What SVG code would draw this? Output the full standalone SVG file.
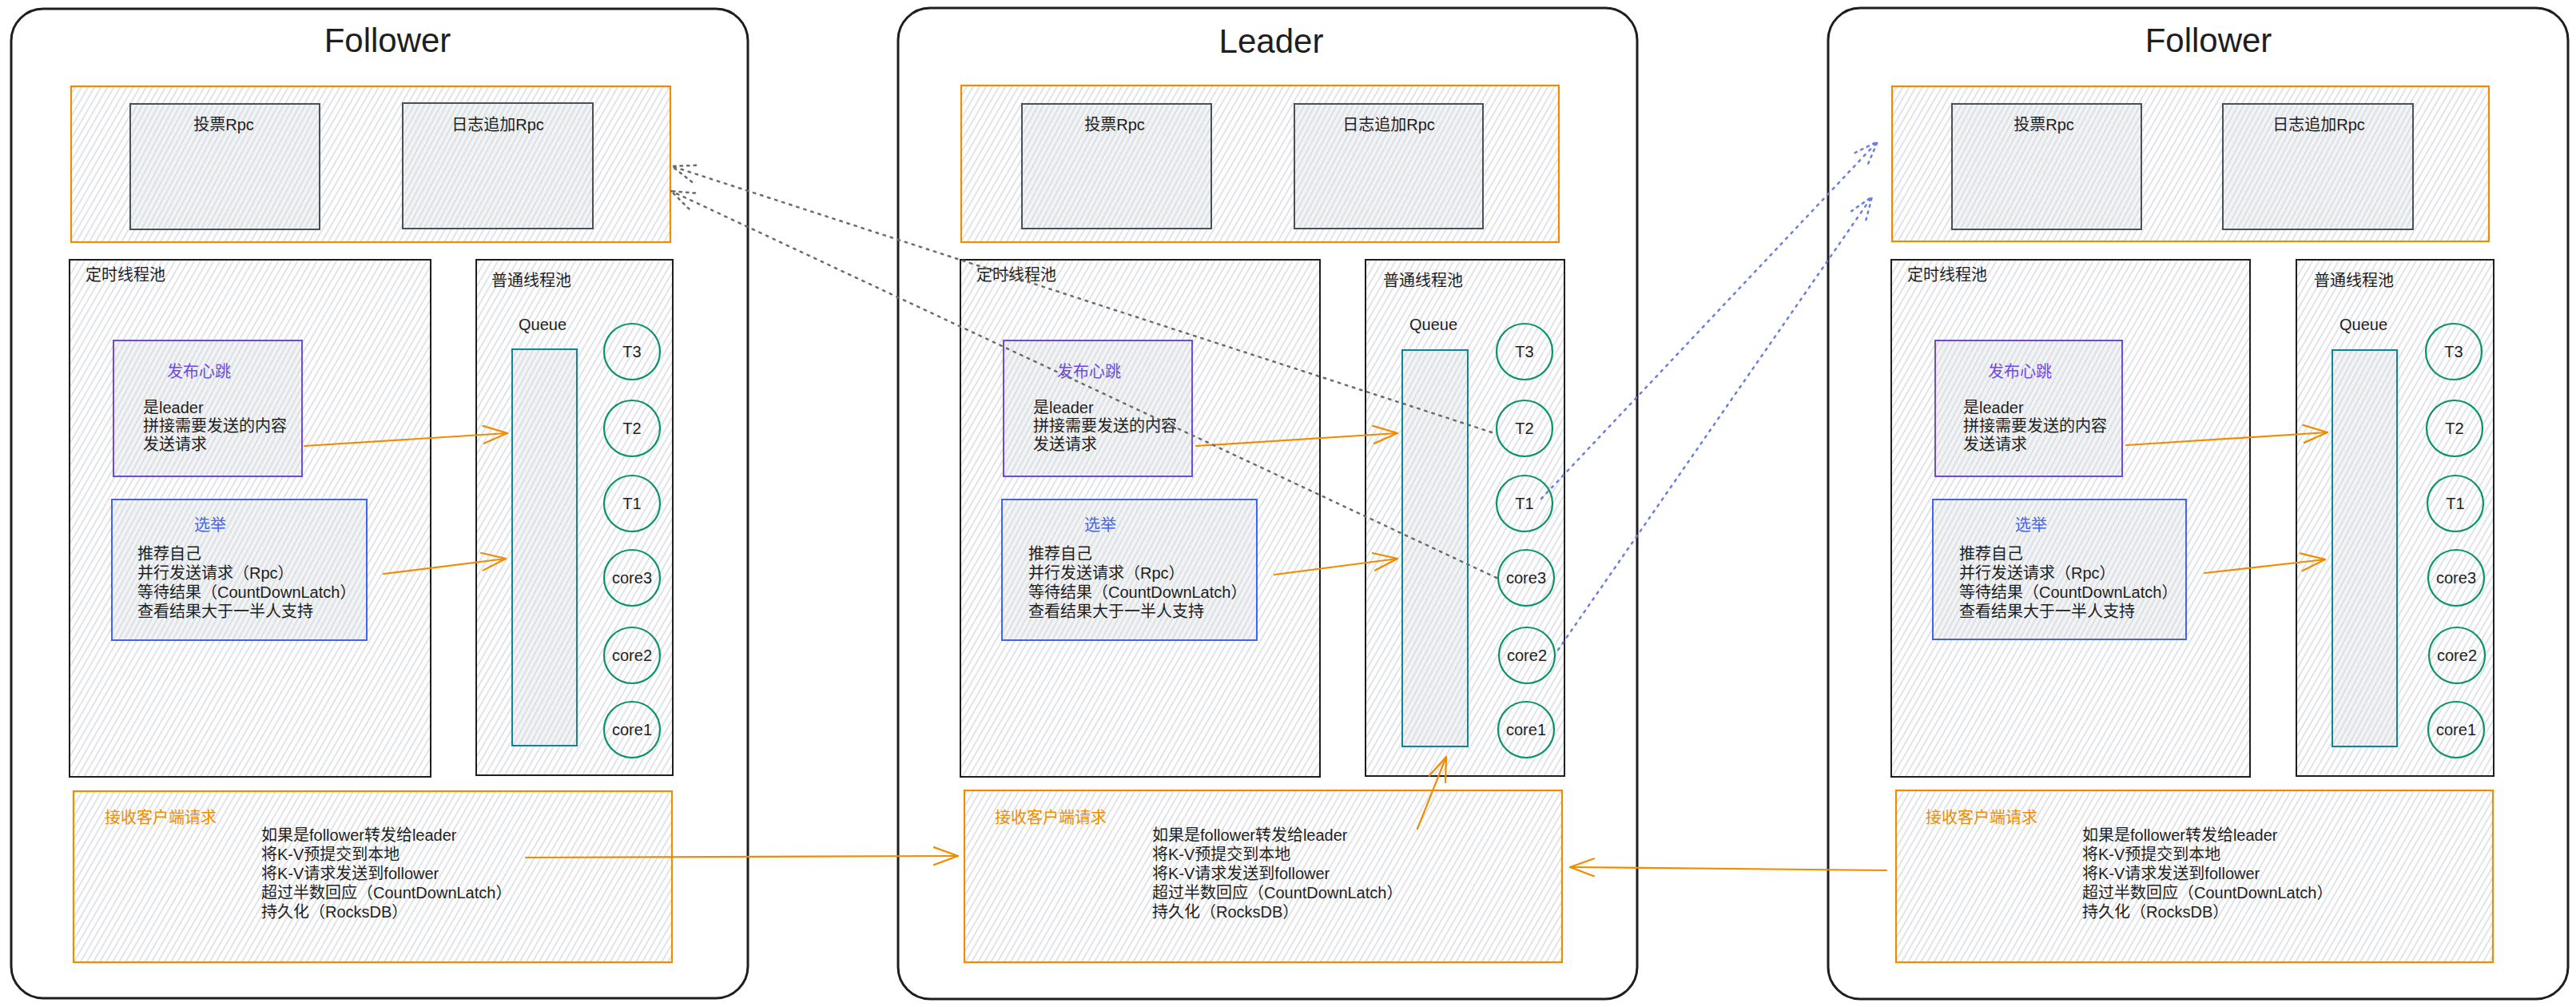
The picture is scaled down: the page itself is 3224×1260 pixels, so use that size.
<svg xmlns="http://www.w3.org/2000/svg" width="3224" height="1260" viewBox="0 0 3224 1260">
<style>
.panel{fill:#ffffff;stroke:#1e1e1e;stroke-width:3}
.ob{fill:url(#hatch);stroke:#f08c00;stroke-width:2.2}
.gb{fill:url(#hatch2);stroke:#495057;stroke-width:2}
.pool{fill:url(#hatch);stroke:#1e1e1e;stroke-width:2}
.hb{fill:url(#hatch2);stroke:#7048e8;stroke-width:2}
.el{fill:url(#hatch2);stroke:#4263eb;stroke-width:2}
.q{fill:url(#hatch2);stroke:#0c8599;stroke-width:2}
.c{fill:none;stroke:#099268;stroke-width:2.2}
text{font-family:"Liberation Sans","Noto Sans CJK SC",sans-serif;font-size:20px;fill:#1e1e1e}
.title{font-size:42px;text-anchor:middle}
.mid{text-anchor:middle}
.purple{fill:#7048e8}
.blue{fill:#4263eb}
.orange{fill:#f08c00}
.arr{fill:none;stroke:#f08c00;stroke-width:2.2;stroke-linecap:round}
.dg{fill:none;stroke:#6b6b6b;stroke-width:2.5;stroke-dasharray:2.5 7;stroke-linecap:round}
.db{fill:none;stroke:#6a7de0;stroke-width:2.5;stroke-dasharray:2.5 7;stroke-linecap:round}
</style>
<defs>
<pattern id="hatch" width="7" height="7" patternUnits="userSpaceOnUse" patternTransform="rotate(30)">
<line x1="3" y1="0" x2="3" y2="7" stroke="#cdd1d6" stroke-width="1.2"/>
</pattern>
<pattern id="hatch2" width="6" height="6" patternUnits="userSpaceOnUse" patternTransform="rotate(28)">
<rect width="6" height="6" fill="#f1f3f5"/>
<line x1="3" y1="0" x2="3" y2="6" stroke="#ced3d8" stroke-width="1.2"/>
</pattern>
<marker id="ao" viewBox="0 0 32 24" refX="31" refY="12" markerWidth="32" markerHeight="24" markerUnits="userSpaceOnUse" orient="auto">
<path d="M1,1 L31,12 L1,23" fill="none" stroke="#f08c00" stroke-width="2.2" stroke-linecap="round"/>
</marker>
<marker id="ag" viewBox="0 0 32 24" refX="31" refY="12" markerWidth="32" markerHeight="24" markerUnits="userSpaceOnUse" orient="auto">
<path d="M1,1 L31,12 L1,23" fill="none" stroke="#6b6b6b" stroke-width="2.5" stroke-dasharray="2.5 6" stroke-linecap="round"/>
</marker>
<marker id="ab" viewBox="0 0 32 24" refX="31" refY="12" markerWidth="32" markerHeight="24" markerUnits="userSpaceOnUse" orient="auto">
<path d="M1,1 L31,12 L1,23" fill="none" stroke="#6a7de0" stroke-width="2.5" stroke-dasharray="2.5 6" stroke-linecap="round"/>
</marker>
</defs>

<!-- Left Follower -->
<g id="follower-left">
<rect class="panel" x="14" y="11" width="922" height="1238" rx="40"/>
<text class="title" x="485" y="65">Follower</text>
<g id="fl-rpc">
<rect class="ob" x="89" y="108" width="750" height="195"/>
<rect class="gb" x="163" y="130" width="237" height="157"/>
<text class="mid" x="280" y="163">投票Rpc</text>
<rect class="gb" x="504" y="129" width="238" height="157"/>
<text class="mid" x="623" y="163">日志追加Rpc</text>
</g>
<g id="fl-timer">
<rect class="pool" x="87" y="325" width="452" height="647"/>
<text x="107" y="351">定时线程池</text>
<rect class="hb" x="142" y="426" width="236" height="170"/>
<text class="mid purple" x="249" y="472">发布心跳</text>
<text x="179" y="517">是leader</text>
<text x="179" y="540">拼接需要发送的内容</text>
<text x="179" y="563">发送请求</text>
<rect class="el" x="140" y="625" width="319" height="176"/>
<text class="mid blue" x="263" y="664">选举</text>
<text x="172" y="700">推荐自己</text>
<text x="172" y="724">并行发送请求（Rpc）</text>
<text x="172" y="748">等待结果（CountDownLatch）</text>
<text x="172" y="772">查看结果大于一半人支持</text>
</g>
<g id="fl-pool">
<rect class="pool" x="596" y="325" width="246" height="645"/>
<text x="615" y="358">普通线程池</text>
<text class="mid" x="679" y="413">Queue</text>
<rect class="q" x="641" y="437" width="81" height="496"/>
<circle class="c" cx="791" cy="440" r="35"/><text class="mid" x="791" y="447">T3</text>
<circle class="c" cx="791" cy="536" r="35"/><text class="mid" x="791" y="543">T2</text>
<circle class="c" cx="791" cy="630" r="35"/><text class="mid" x="791" y="637">T1</text>
<circle class="c" cx="791" cy="723" r="35"/><text class="mid" x="791" y="730">core3</text>
<circle class="c" cx="791" cy="820" r="35"/><text class="mid" x="791" y="827">core2</text>
<circle class="c" cx="791" cy="913" r="35"/><text class="mid" x="791" y="920">core1</text>
</g>
<g id="fl-client">
<rect class="ob" x="92" y="990" width="749" height="214"/>
<text class="orange" x="131" y="1030">接收客户端请求</text>
<text x="327" y="1052">如果是follower转发给leader</text>
<text x="327" y="1076">将K-V预提交到本地</text>
<text x="327" y="1100">将K-V请求发送到follower</text>
<text x="327" y="1124">超过半数回应（CountDownLatch）</text>
<text x="327" y="1148">持久化（RocksDB）</text>
</g>
</g>

<!-- Leader -->
<g id="leader">
<rect class="panel" x="1124" y="10" width="925" height="1240" rx="40"/>
<text class="title" x="1591" y="66">Leader</text>
<g id="ld-rpc">
<rect class="ob" x="1203" y="107" width="748" height="196"/>
<rect class="gb" x="1279" y="130" width="237" height="156"/>
<text class="mid" x="1395" y="163">投票Rpc</text>
<rect class="gb" x="1620" y="130" width="236" height="156"/>
<text class="mid" x="1738" y="163">日志追加Rpc</text>
</g>
<g id="ld-timer">
<rect class="pool" x="1202" y="325" width="450" height="647"/>
<text x="1222" y="351">定时线程池</text>
<rect class="hb" x="1256" y="426" width="236" height="170"/>
<text class="mid purple" x="1363" y="472">发布心跳</text>
<text x="1293" y="517">是leader</text>
<text x="1293" y="540">拼接需要发送的内容</text>
<text x="1293" y="563">发送请求</text>
<rect class="el" x="1254" y="625" width="319" height="176"/>
<text class="mid blue" x="1377" y="664">选举</text>
<text x="1287" y="700">推荐自己</text>
<text x="1287" y="724">并行发送请求（Rpc）</text>
<text x="1287" y="748">等待结果（CountDownLatch）</text>
<text x="1287" y="772">查看结果大于一半人支持</text>
</g>
<g id="ld-pool">
<rect class="pool" x="1709" y="325" width="249" height="646"/>
<text x="1731" y="358">普通线程池</text>
<text class="mid" x="1794" y="413">Queue</text>
<rect class="q" x="1755" y="438" width="82" height="496"/>
<circle class="c" cx="1908" cy="440" r="35"/><text class="mid" x="1908" y="447">T3</text>
<circle class="c" cx="1908" cy="536" r="35"/><text class="mid" x="1908" y="543">T2</text>
<circle class="c" cx="1908" cy="630" r="35"/><text class="mid" x="1908" y="637">T1</text>
<circle class="c" cx="1910" cy="723" r="35"/><text class="mid" x="1910" y="730">core3</text>
<circle class="c" cx="1911" cy="820" r="35"/><text class="mid" x="1911" y="827">core2</text>
<circle class="c" cx="1910" cy="913" r="35"/><text class="mid" x="1910" y="920">core1</text>
</g>
<g id="ld-client">
<rect class="ob" x="1207" y="989" width="748" height="215"/>
<text class="orange" x="1245" y="1030">接收客户端请求</text>
<text x="1442" y="1052">如果是follower转发给leader</text>
<text x="1442" y="1076">将K-V预提交到本地</text>
<text x="1442" y="1100">将K-V请求发送到follower</text>
<text x="1442" y="1124">超过半数回应（CountDownLatch）</text>
<text x="1442" y="1148">持久化（RocksDB）</text>
</g>
</g>

<!-- Right Follower -->
<g id="follower-right">
<rect class="panel" x="2288" y="10" width="926" height="1240" rx="40"/>
<text class="title" x="2764" y="65">Follower</text>
<g id="fr-rpc">
<rect class="ob" x="2368" y="108" width="747" height="194"/>
<rect class="gb" x="2443" y="130" width="237" height="157"/>
<text class="mid" x="2558" y="163">投票Rpc</text>
<rect class="gb" x="2782" y="130" width="238" height="157"/>
<text class="mid" x="2902" y="163">日志追加Rpc</text>
</g>
<g id="fr-timer">
<rect class="pool" x="2367" y="325" width="449" height="647"/>
<text x="2387" y="351">定时线程池</text>
<rect class="hb" x="2422" y="426" width="234" height="170"/>
<text class="mid purple" x="2528" y="472">发布心跳</text>
<text x="2457" y="517">是leader</text>
<text x="2457" y="540">拼接需要发送的内容</text>
<text x="2457" y="563">发送请求</text>
<rect class="el" x="2419" y="625" width="317" height="175"/>
<text class="mid blue" x="2542" y="664">选举</text>
<text x="2452" y="700">推荐自己</text>
<text x="2452" y="724">并行发送请求（Rpc）</text>
<text x="2452" y="748">等待结果（CountDownLatch）</text>
<text x="2452" y="772">查看结果大于一半人支持</text>
</g>
<g id="fr-pool">
<rect class="pool" x="2874" y="325" width="247" height="646"/>
<text x="2896" y="358">普通线程池</text>
<text class="mid" x="2958" y="413">Queue</text>
<rect class="q" x="2919" y="438" width="81" height="496"/>
<circle class="c" cx="3071" cy="440" r="35"/><text class="mid" x="3071" y="447">T3</text>
<circle class="c" cx="3072" cy="536" r="35"/><text class="mid" x="3072" y="543">T2</text>
<circle class="c" cx="3073" cy="630" r="35"/><text class="mid" x="3073" y="637">T1</text>
<circle class="c" cx="3074" cy="723" r="35"/><text class="mid" x="3074" y="730">core3</text>
<circle class="c" cx="3075" cy="820" r="35"/><text class="mid" x="3075" y="827">core2</text>
<circle class="c" cx="3074" cy="913" r="35"/><text class="mid" x="3074" y="920">core1</text>
</g>
<g id="fr-client">
<rect class="ob" x="2373" y="989" width="747" height="215"/>
<text class="orange" x="2410" y="1030">接收客户端请求</text>
<text x="2606" y="1052">如果是follower转发给leader</text>
<text x="2606" y="1076">将K-V预提交到本地</text>
<text x="2606" y="1100">将K-V请求发送到follower</text>
<text x="2606" y="1124">超过半数回应（CountDownLatch）</text>
<text x="2606" y="1148">持久化（RocksDB）</text>
</g>
</g>

<!-- Connectors -->
<g id="connectors">
<path class="arr" d="M381,558 L635,542" marker-end="url(#ao)"/>
<path class="arr" d="M480,718 L633,699" marker-end="url(#ao)"/>
<path class="arr" d="M1497,558 L1749,542" marker-end="url(#ao)"/>
<path class="arr" d="M1595,719 L1749,699" marker-end="url(#ao)"/>
<path class="arr" d="M2661,557 L2913,541" marker-end="url(#ao)"/>
<path class="arr" d="M2759,717 L2910,700" marker-end="url(#ao)"/>
<path class="arr" d="M658,1073 L1199,1071" marker-end="url(#ao)"/>
<path class="arr" d="M2361,1089 L1965,1085" marker-end="url(#ao)"/>
<path class="arr" d="M1774,1037 L1810,947" marker-end="url(#ao)"/>
<path class="dg" d="M1867,541 L841,208" marker-end="url(#ag)"/>
<path class="dg" d="M1873,723 L840,239" marker-end="url(#ag)"/>
<path class="db" d="M1929,624 L2350,177" marker-end="url(#ab)"/>
<path class="db" d="M1950,813 L2343,246" marker-end="url(#ab)"/>
</g>
</svg>
